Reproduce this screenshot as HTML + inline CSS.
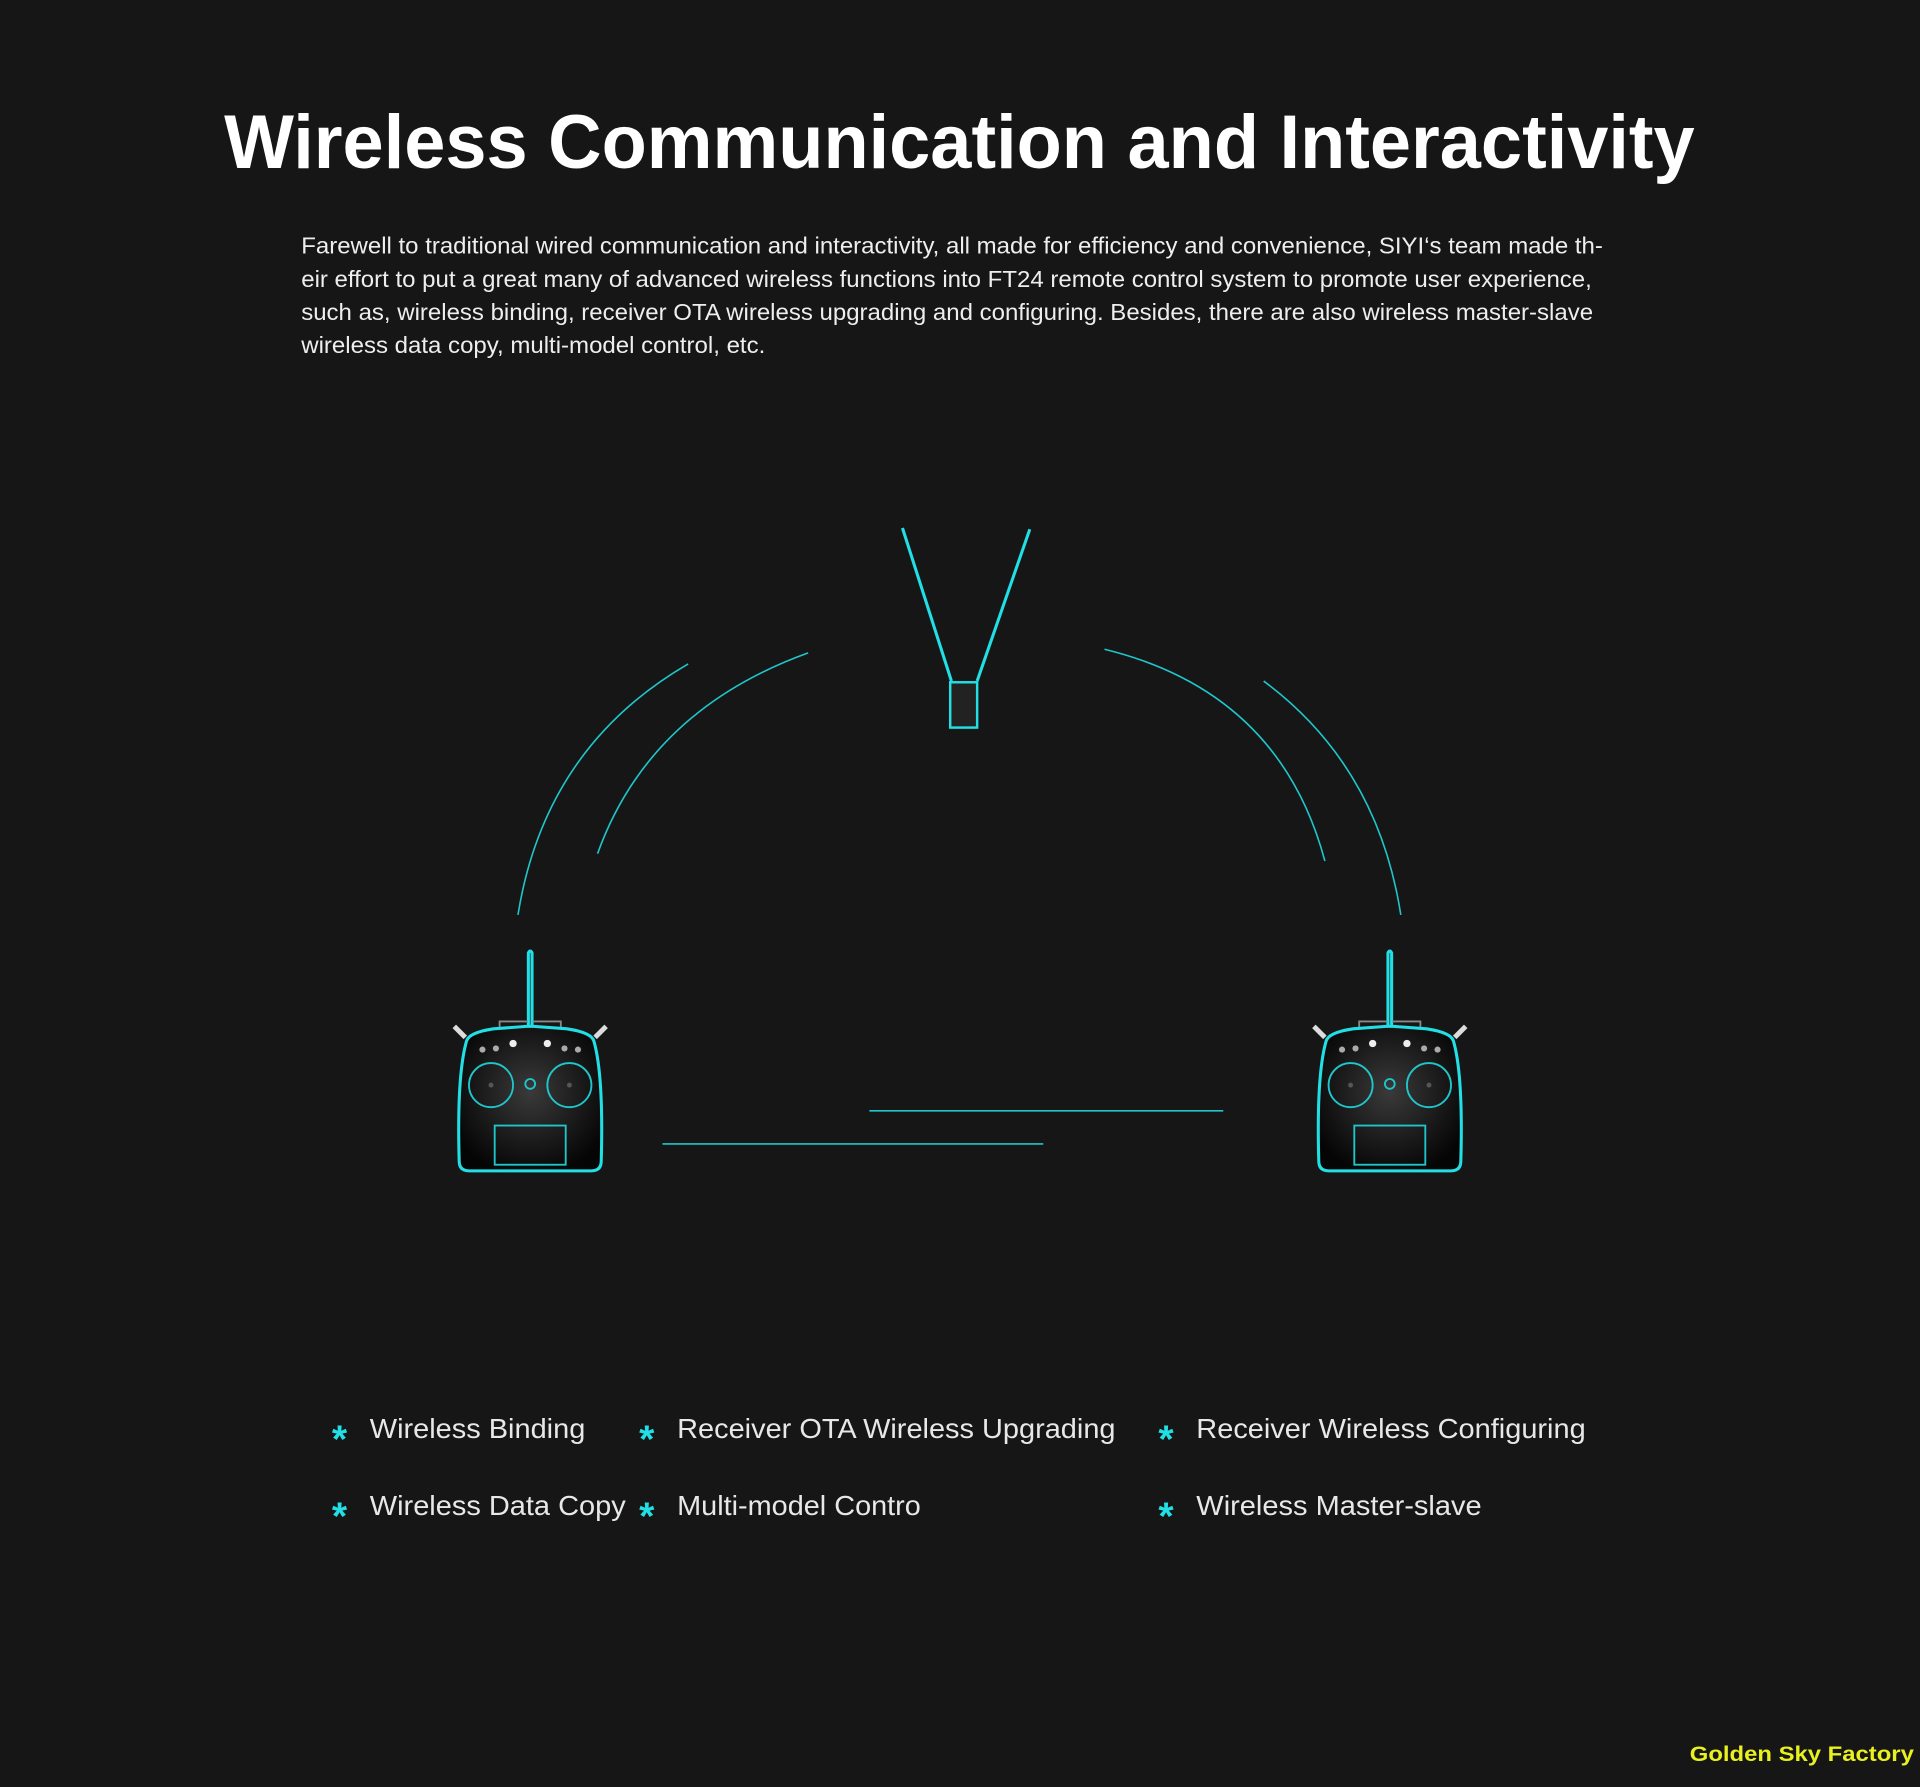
<!DOCTYPE html>
<html><head><meta charset="utf-8"><style>
html,body{margin:0;padding:0;background:#161616;}
svg{display:block}
</style></head><body>
<svg width="1920" height="1787" viewBox="0 0 1568 1459" xmlns="http://www.w3.org/2000/svg">
<defs>
<radialGradient id="g" cx="0.5" cy="0.45" r="0.6"><stop offset="0" stop-color="#3a3a3a"/><stop offset="1" stop-color="#050505"/></radialGradient>
<g id="rc">
  <line x1="-62" y1="0" x2="-53" y2="9" stroke="#ddd" stroke-width="4"/>
  <line x1="62" y1="0" x2="53" y2="9" stroke="#ddd" stroke-width="4"/>
  <path d="M-1.5,0 L-1.5,-60 Q0,-63 1.5,-60 L1.5,0 Z" fill="none" stroke="#22dfe6" stroke-width="2.5"/>
  <path d="M-2,0 L-25,2 L-25,-4 L-2,-4" fill="none" stroke="#888" stroke-width="1.5"/>
  <path d="M2,0 L25,2 L25,-4 L2,-4" fill="none" stroke="#888" stroke-width="1.5"/>
  <path d="M-3,0 L-30,2 Q-50,5 -52,12 Q-60,40 -58,110 Q-58,118 -50,118 L50,118 Q58,118 58,110 Q60,40 52,12 Q50,5 30,2 L3,0 Z" fill="url(#g)" stroke="#22dfe6" stroke-width="2.5"/>
  <circle cx="-32" cy="48" r="18" fill="none" stroke="#1fc7cc" stroke-width="1.5"/>
  <circle cx="32" cy="48" r="18" fill="none" stroke="#1fc7cc" stroke-width="1.5"/>
  <circle cx="-32" cy="48" r="2" fill="#555"/><circle cx="32" cy="48" r="2" fill="#555"/>
  <circle cx="0" cy="47" r="4" fill="none" stroke="#1fc7cc" stroke-width="1.5"/>
  <circle cx="-14" cy="14" r="3" fill="#eee"/><circle cx="14" cy="14" r="3" fill="#eee"/>
  <circle cx="-28" cy="18" r="2.5" fill="#aaa"/><circle cx="-39" cy="19" r="2.5" fill="#aaa"/>
  <circle cx="28" cy="18" r="2.5" fill="#aaa"/><circle cx="39" cy="19" r="2.5" fill="#aaa"/>
  <rect x="-29" y="81" width="58" height="32" fill="none" stroke="#1fc7cc" stroke-width="1.5"/>
</g>
</defs>
<rect width="1568" height="1459" fill="#161616"/>
<text x="183" y="137" font-family="Liberation Sans, sans-serif" font-weight="bold" font-size="62" fill="#fff" textLength="1201" lengthAdjust="spacingAndGlyphs">Wireless Communication and Interactivity</text>
<g font-family="Liberation Sans, sans-serif" font-size="19" fill="#eee">
<text x="246" y="207" textLength="1063" lengthAdjust="spacingAndGlyphs">Farewell to traditional wired communication and interactivity, all made for efficiency and convenience, SIYI‘s team made th-</text>
<text x="246" y="234" textLength="1054" lengthAdjust="spacingAndGlyphs">eir effort to put a great many of advanced wireless functions into FT24 remote control system to promote user experience,</text>
<text x="246" y="261" textLength="1055" lengthAdjust="spacingAndGlyphs">such as, wireless binding, receiver OTA wireless upgrading and configuring. Besides, there are also wireless master-slave</text>
<text x="246" y="288" textLength="379" lengthAdjust="spacingAndGlyphs">wireless data copy, multi-model control, etc.</text>
</g>
<g fill="none" stroke="#1fc7cc" stroke-width="1.3">
<path d="M423,747 Q445,610 562,542"/>
<path d="M488,697 Q530,580 660,533"/>
<path d="M902,530 Q1045,565 1082,703"/>
<path d="M1032,556 Q1125,625 1144,747"/>
<line x1="710" y1="907" x2="999" y2="907"/>
<line x1="541" y1="934" x2="852" y2="934"/>
</g>
<line x1="737" y1="431" x2="777" y2="556" stroke="#22dfe6" stroke-width="2.5"/>
<line x1="841" y1="432" x2="798" y2="556" stroke="#22dfe6" stroke-width="2.5"/>
<rect x="776" y="557" width="22" height="37" fill="#222" stroke="#22dfe6" stroke-width="2"/>
<use href="#rc" x="433" y="838"/>
<use href="#rc" x="1135" y="838"/>
<g font-family="Liberation Sans, sans-serif" font-size="23" fill="#e8e8e8">
<g fill="#22dfe6" font-size="32" font-weight="bold">
<text x="271" y="1186">*</text><text x="522" y="1186">*</text><text x="946" y="1186">*</text>
<text x="271" y="1249">*</text><text x="522" y="1249">*</text><text x="946" y="1249">*</text>
</g>
<text x="302" y="1174" textLength="176" lengthAdjust="spacingAndGlyphs">Wireless Binding</text>
<text x="553" y="1174" textLength="358" lengthAdjust="spacingAndGlyphs">Receiver OTA Wireless Upgrading</text>
<text x="977" y="1174" textLength="318" lengthAdjust="spacingAndGlyphs">Receiver Wireless Configuring</text>
<text x="302" y="1237" textLength="209" lengthAdjust="spacingAndGlyphs">Wireless Data Copy</text>
<text x="553" y="1237" textLength="199" lengthAdjust="spacingAndGlyphs">Multi-model Contro</text>
<text x="977" y="1237" textLength="233" lengthAdjust="spacingAndGlyphs">Wireless Master-slave</text>
</g>
<text x="1380" y="1438" font-family="Liberation Sans, sans-serif" font-weight="bold" font-size="17" fill="#e8f020" textLength="183" lengthAdjust="spacingAndGlyphs">Golden Sky Factory</text>
</svg>
</body></html>
